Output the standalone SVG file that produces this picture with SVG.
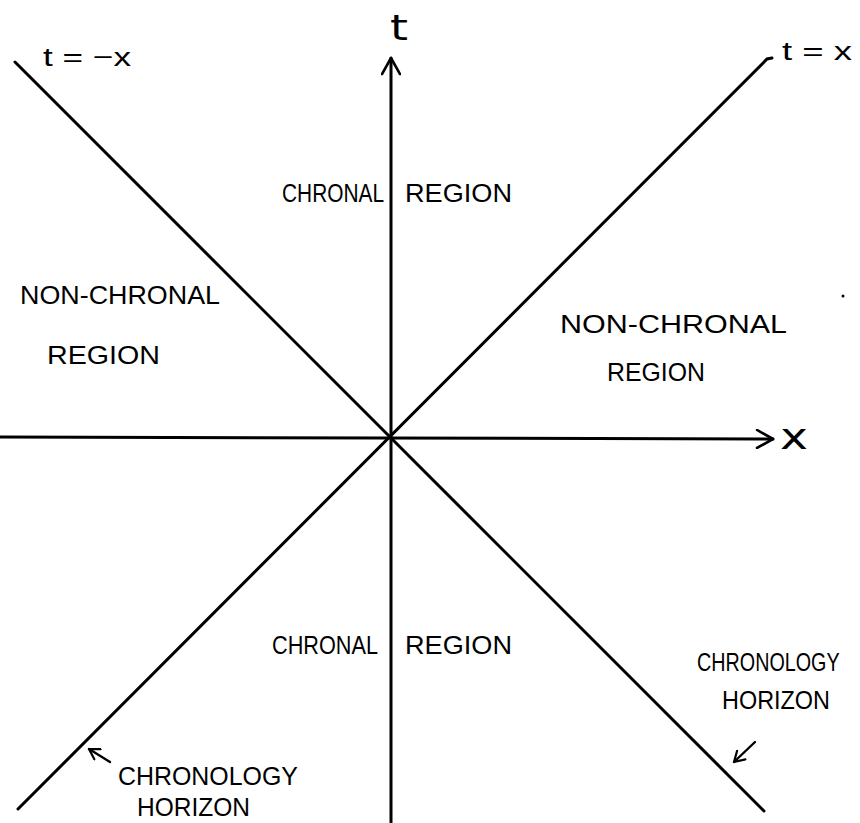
<svg xmlns="http://www.w3.org/2000/svg" width="860" height="823" viewBox="0 0 860 823">
<defs>
<marker id="openArrow" viewBox="0 0 20 20" refX="18" refY="10" markerWidth="20" markerHeight="20" markerUnits="userSpaceOnUse" orient="auto">
<path d="M2,1 L18,10 L2,19" fill="none" stroke="#000" stroke-width="2.6" stroke-linecap="round" stroke-linejoin="round"/>
</marker>
<marker id="smallArrow" viewBox="0 0 14 14" refX="12" refY="7" markerWidth="14" markerHeight="14" markerUnits="userSpaceOnUse" orient="auto">
<path d="M2,1 L12,7 L2,13" fill="none" stroke="#000" stroke-width="2.2" stroke-linecap="round" stroke-linejoin="round"/>
</marker>
</defs>
<style>
.ln{stroke:#000;stroke-width:3;fill:none;stroke-linecap:round}
.ptr{stroke:#000;stroke-width:2.4;fill:none;stroke-linecap:round}
.lbl{font-family:"Liberation Sans Narrow","Liberation Sans",Arial,sans-serif;font-size:26px;fill:#000}
.big{font-family:"DejaVu Sans","Liberation Sans",sans-serif;font-size:36px;fill:#000}
</style>
<rect width="860" height="823" fill="#fff"/>
<g id="connectors">
<line class="ln" x1="391" y1="823" x2="391" y2="58" marker-end="url(#openArrow)"/>
<line class="ln" x1="0" y1="437" x2="773" y2="439" marker-end="url(#openArrow)"/>
<line class="ln" x1="15" y1="62" x2="764" y2="811"/>
<polyline class="ln" points="18,809 767,59 772,58"/>
<line class="ptr" x1="755" y1="742" x2="734" y2="762" marker-end="url(#smallArrow)"/>
<line class="ptr" x1="110" y1="762" x2="89" y2="749" marker-end="url(#smallArrow)"/>
</g>
<g id="label-t-axis"><text class="big" x="390" y="40" textLength="18" lengthAdjust="spacingAndGlyphs">t</text></g>
<g id="label-x-axis"><text class="big" x="780" y="449" textLength="28" lengthAdjust="spacingAndGlyphs">x</text></g>
<g id="label-t-minus-x"><text class="lbl" x="43" y="66" textLength="88" lengthAdjust="spacingAndGlyphs">t = −x</text></g>
<g id="label-t-x"><text class="lbl" x="782" y="60" textLength="70" lengthAdjust="spacingAndGlyphs">t = x</text></g>
<g id="chronal-top">
<text class="lbl" x="282" y="202" textLength="102" lengthAdjust="spacingAndGlyphs">CHRONAL</text>
<text class="lbl" x="405" y="202" textLength="107" lengthAdjust="spacingAndGlyphs">REGION</text>
</g>
<g id="nonchronal-left">
<text class="lbl" x="20" y="304" textLength="200" lengthAdjust="spacingAndGlyphs">NON-CHRONAL</text>
<text class="lbl" x="47" y="364" textLength="113" lengthAdjust="spacingAndGlyphs">REGION</text>
</g>
<g id="nonchronal-right">
<text class="lbl" x="560" y="333" textLength="227" lengthAdjust="spacingAndGlyphs">NON-CHRONAL</text>
<text class="lbl" x="607" y="381" textLength="98" lengthAdjust="spacingAndGlyphs">REGION</text>
</g>
<g id="chronal-bottom">
<text class="lbl" x="272" y="654" textLength="106" lengthAdjust="spacingAndGlyphs">CHRONAL</text>
<text class="lbl" x="405" y="654" textLength="107" lengthAdjust="spacingAndGlyphs">REGION</text>
</g>
<g id="horizon-right">
<text class="lbl" transform="translate(697,671) scale(0.76,1)" x="0" y="0">CHRONOLOGY</text>
<text class="lbl" x="722" y="709" textLength="108" lengthAdjust="spacingAndGlyphs">HORIZON</text>
</g>
<g id="horizon-left">
<text class="lbl" x="118" y="785" textLength="180" lengthAdjust="spacingAndGlyphs">CHRONOLOGY</text>
<text class="lbl" x="137" y="816" textLength="113" lengthAdjust="spacingAndGlyphs">HORIZON</text>
</g>
<circle cx="843" cy="296" r="1.5" fill="#000"/>
</svg>
